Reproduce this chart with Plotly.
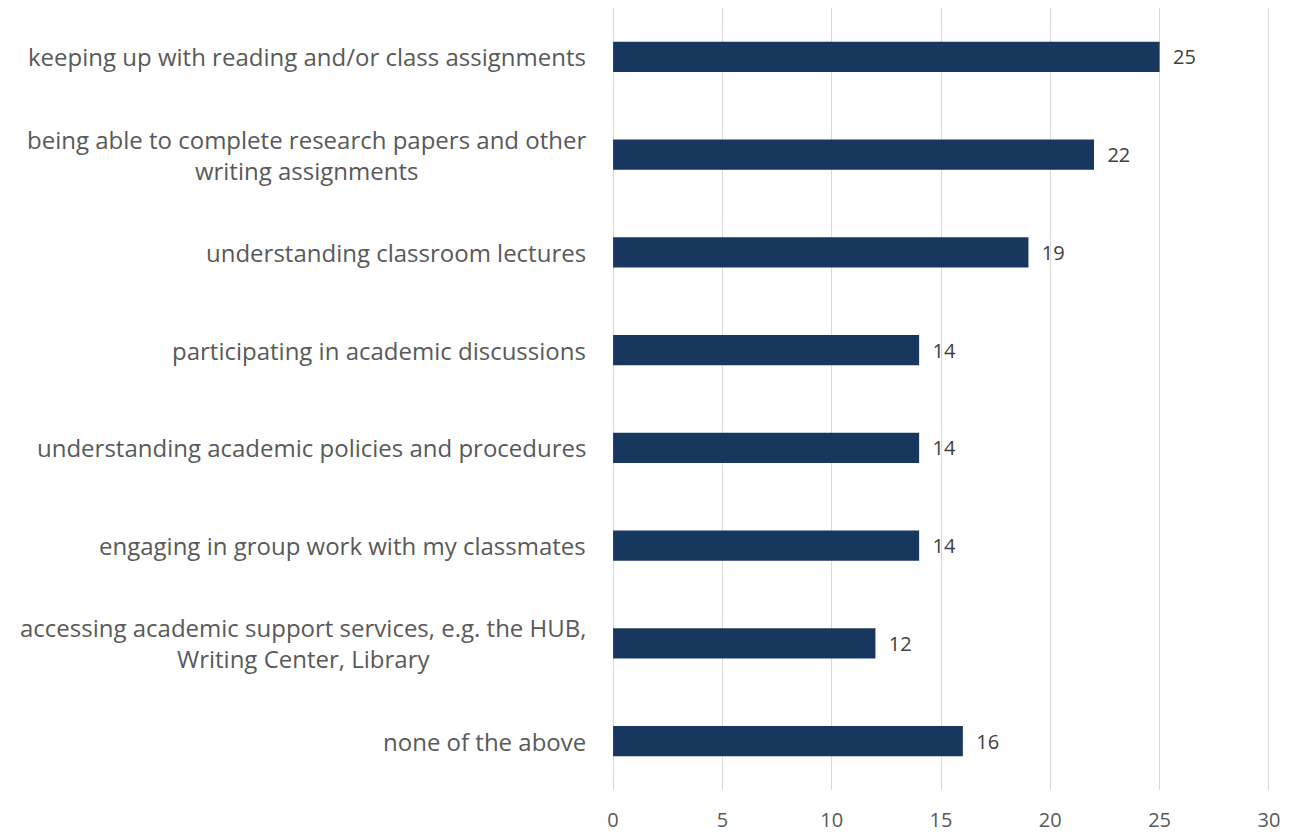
import plotly.graph_objects as go

categories = [
    "keeping up with reading and/or class assignments",
    "being able to complete research papers and other<br>writing assignments",
    "understanding classroom lectures",
    "participating in academic discussions",
    "understanding academic policies and procedures",
    "engaging in group work with my classmates",
    "accessing academic support services, e.g. the HUB,<br>Writing Center, Library",
    "none of the above",
]
values = [25, 22, 19, 14, 14, 14, 12, 16]
x_ticks = [0, 5, 10, 15, 20, 25, 30]

ids = [f"c{i}" for i in range(len(categories))]
FONT = "Open Sans"

fig = go.Figure()
fig.add_trace(go.Bar(
    y=ids, x=values, orientation="h",
    marker=dict(color="#17375E", line=dict(width=0)),
    text=["\u00a0\u00a0" + str(v) for v in values], textposition="outside",
    textfont=dict(family=FONT, size=20, color="#404040"),
    cliponaxis=False, width=0.31,
))

for cid, lab in zip(ids, categories):
    fig.add_annotation(
        x=0, xref="paper", y=cid, yref="y", text=lab, showarrow=False,
        xanchor="right", yanchor="middle", align="center", xshift=-24,
        font=dict(family=FONT, size=24, color="#595959"),
    )

fig.update_layout(
    width=1290, height=833,
    margin=dict(l=612, r=20, t=8, b=43, autoexpand=False),
    paper_bgcolor="white", plot_bgcolor="white",
    showlegend=False,
    xaxis=dict(range=[-0.05, 30.05], tickvals=x_ticks, showgrid=True, gridcolor="#D9D9D9",
               gridwidth=1, zeroline=True, zerolinecolor="#D9D9D9", zerolinewidth=1,
               showline=False, automargin=False,
               tickfont=dict(family=FONT, size=20, color="#595959"),
               ticklabelstandoff=16),
    yaxis=dict(categoryorder="array", categoryarray=ids[::-1], showticklabels=False,
               showgrid=False, zeroline=False, range=[-0.5, 7.5], automargin=False),
)
fig.write_html(
    "out.html",
    config={"displayModeBar": False},
    post_script="document.body.style.margin='0';document.documentElement.style.overflow='hidden';",
)
